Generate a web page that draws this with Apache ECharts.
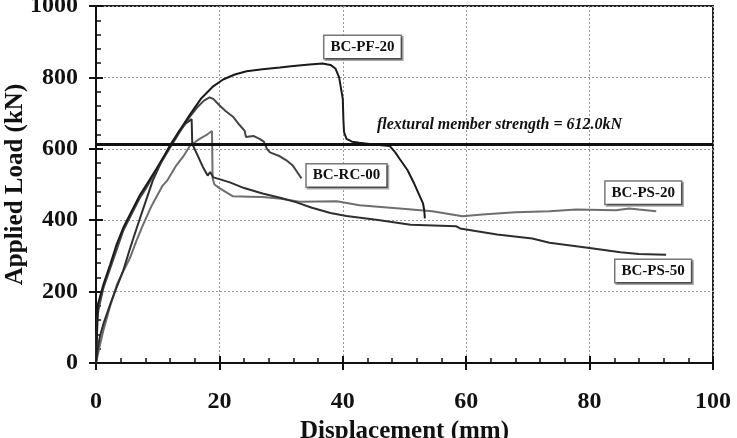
<!DOCTYPE html>
<html>
<head>
<meta charset="utf-8">
<script src="https://cdn.jsdelivr.net/npm/echarts@6/dist/echarts.min.js"></script>
<style>
  html, body { margin: 0; padding: 0; background: #fff; }
  #chart { width: 737px; height: 438px; }
</style>
</head>
<body>
<div id="chart"></div>
<script>
// load-displacement curves, [displacement mm, load kN]
const pf20 = [[0,0],[0.2,100],[0.3,164],[1.2,220],[2.3,276],[3.3,330],[4.4,378],[6,433],[7.1,470],[8.2,500],[9.8,544],[12,608],[13.5,650],[15.2,695],[17,740],[19,775],[20.6,794],[22.5,808],[24.4,817],[27,823],[29.8,828],[32,832],[34.6,836],[36.7,839],[38,835],[38.8,825],[39.4,800],[39.8,760],[40,739],[40.1,680],[40.2,647],[40.6,628],[41.5,620],[42.7,617],[45,612],[47.6,608],[48.5,590],[49.2,572],[50.5,540],[51.5,505],[52.4,470],[53,447],[53.2,428],[53.3,405]];
const rc00 = [[0,0],[0.2,120],[0.4,150],[1.2,210],[2.3,265],[4.4,370],[6,425],[7.1,462],[8.2,492],[9.8,540],[12,603],[13.5,645],[15,685],[16.5,718],[17.5,735],[18.4,744],[19,740],[20,722],[21,706],[22.2,690],[23.2,668],[24.1,650],[24.3,633],[25.5,636],[26.5,628],[27.2,620],[27.7,600],[28.2,590],[29.8,579],[31,566],[31.9,553],[32.6,535],[33.3,517]];
const ps50 = [[0,0],[0.3,40],[0.6,72],[1.2,110],[2.3,164],[3.3,210],[4.4,258],[5.5,320],[6.6,378],[8,450],[9.2,511],[10.5,560],[12,610],[13.5,650],[14.5,670],[15.5,683],[15.6,614],[16.5,580],[17.3,550],[18.1,525],[18.5,535],[19,520],[20,515],[21.7,506],[24,490],[27,475],[30,462],[32.5,450],[35,435],[38,420],[40.6,412],[46,400],[51,387],[58.4,383],[59,377],[65,360],[70.7,349],[73.5,337],[80,322],[85,310],[88,305],[92.4,303]];
const ps20 = [[0,0],[0.5,40],[1.2,92],[2.3,160],[3.4,220],[4.5,260],[5.5,294],[6.5,340],[7.6,386],[9,440],[10.8,497],[11.5,510],[13,553],[14.2,580],[15.2,608],[16.3,622],[17,630],[18,640],[18.8,650],[18.9,517],[19.2,500],[20,490],[22.2,467],[25,466],[27,465],[30,460],[33,452],[39,453],[42.7,442],[49.2,433],[54.5,425],[59.4,411],[62.6,416],[68,422],[73.5,425],[77.8,430],[84.3,428],[86.4,433],[88,430],[90.8,425]];

const strength = 612.0;
const strengthText = 'flextural member strength = 612.0kN';
// label anchors for each specimen name (data coords)
const names = ['BC-PF-20', 'BC-RC-00', 'BC-PS-20', 'BC-PS-50'];
const nameAt = [[43.2, 885], [40.6, 525], [88.7, 477], [90.3, 258]];

const serif = '"Liberation Serif", "DejaVu Serif", serif';

const chart = echarts.init(document.getElementById('chart'));

const boxLabel = {
	show: true,
	formatter: '{b}',
	color: '#111',
	fontFamily: serif,
	fontWeight: 'bold',
	fontSize: 15,
	backgroundColor: '#fff',
	borderColor: '#777',
	borderWidth: 1.5,
	padding: [4, 6, 3, 6],
	shadowColor: 'rgba(0,0,0,0.35)',
	shadowOffsetX: 1.5,
	shadowOffsetY: 1.5,
	position: 'inside'
}

function curve(name, data, color, idx){
	return {
		name: name,
		type: 'line',
		data: data,
		showSymbol: false,
		symbol: 'none',
		lineStyle: { color: color, width: 2 },
		z: 3,
		markPoint: {
			symbol: 'rect',
			symbolSize: 1,
			itemStyle: { color: 'transparent' },
			label: boxLabel,
			data: [{ name: name, coord: nameAt[idx] }]
		}
	}
}

const axisLabelStyle = {
	fontFamily: serif,
	fontWeight: 'bold',
	fontSize: 24,
	color: '#111',
	formatter: v => String(v)
}
const titleStyle = { fontFamily: serif, fontWeight: 'bold', fontSize: 25, color: '#111' }

const option = {
	animation: false,
	backgroundColor: '#fff',
	grid: {
		left: 96, right: 24, top: 6, bottom: 75,
		outerBoundsMode: 'none',
		containLabel: false,
		show: true,
		borderColor: '#222',
		borderWidth: 2
	},
	xAxis: [{
		type: 'value',
		min: 0, max: 100, interval: 20,
		position: 'bottom',
		name: 'Displacement (mm)',
		nameLocation: 'middle',
		nameGap: 56,
		nameMoveOverlap: false,
		nameTextStyle: titleStyle,
		axisLine: { lineStyle: { color: '#111', width: 2 } },
		axisTick: { show: true, inside: false, length: 7, lineStyle: { color: '#111', width: 2 } },
		axisLabel: Object.assign({ margin: 27 }, axisLabelStyle),
		splitLine: { show: true, lineStyle: { color: '#999', type: [2, 2], width: 1 } }
	}, {
		type: 'value',
		min: 0, max: 100, interval: 20,
		position: 'bottom',
		axisLine: { show: false },
		axisTick: { show: true, inside: true, length: 7, lineStyle: { color: '#111', width: 2 } },
		minorTick: { show: true, splitNumber: 5, length: 5, lineStyle: { color: '#111', width: 1.5 } },
		axisLabel: { show: false },
		splitLine: { show: false }
	}],
	yAxis: [{
		type: 'value',
		min: 0, max: 1000, interval: 200,
		position: 'left',
		name: 'Applied Load (kN)',
		nameLocation: 'middle',
		nameGap: 68,
		nameMoveOverlap: false,
		nameTextStyle: titleStyle,
		axisLine: { lineStyle: { color: '#111', width: 2 } },
		axisTick: { show: true, inside: false, length: 7, lineStyle: { color: '#111', width: 2 } },
		axisLabel: Object.assign({ margin: 18 }, axisLabelStyle),
		splitLine: { show: true, lineStyle: { color: '#999', type: [2, 2], width: 1 } }
	}, {
		type: 'value',
		min: 0, max: 1000, interval: 200,
		position: 'left',
		axisLine: { show: false },
		axisTick: { show: true, inside: true, length: 7, lineStyle: { color: '#111', width: 2 } },
		minorTick: { show: true, splitNumber: 5, length: 5, lineStyle: { color: '#111', width: 1.5 } },
		axisLabel: { show: false },
		splitLine: { show: false }
	}],
	series: [
		curve('BC-PS-20', ps20, '#6e6e6e', 2),
		curve('BC-PS-50', ps50, '#2e2e2e', 3),
		curve('BC-RC-00', rc00, '#454545', 1),
		Object.assign(curve('BC-PF-20', pf20, '#1a1a1a', 0), {
			markLine: {
				silent: true,
				symbol: 'none',
				lineStyle: { color: '#111', width: 3, type: 'solid' },
				label: {
					show: true,
					position: 'insideMiddleTop',
					formatter: strengthText,
					fontFamily: serif,
					fontStyle: 'italic',
					fontWeight: 'bold',
					fontSize: 16,
					color: '#111',
					distance: 12,
					offset: [95, 0]
				},
				data: [{ yAxis: strength }]
			}
		})
	]
}

chart.setOption(option);
</script>
</body>
</html>
